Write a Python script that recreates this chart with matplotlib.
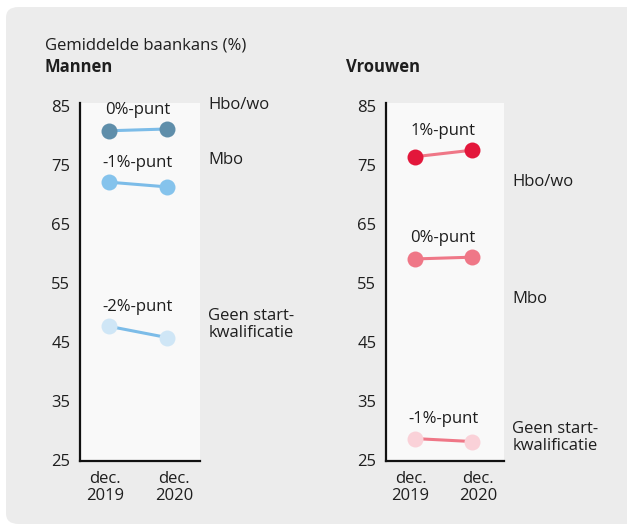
import matplotlib
matplotlib.use("Agg")
import matplotlib.pyplot as plt
from matplotlib.patches import FancyBboxPatch

plt.rcParams["font.family"] = ["Open Sans", "DejaVu Sans"]

# data
periods = ["dec.\n2019", "dec.\n2020"]
groups = ["Hbo/wo", "Mbo", "Geen start-\nkwalificatie"]
men_2019 = [80.8, 72.1, 47.7]
men_2020 = [81.1, 71.3, 45.8]
women_2019 = [76.4, 59.1, 28.7]
women_2020 = [77.5, 59.4, 28.2]
men_change = ["0%-punt", "-1%-punt", "-2%-punt"]
women_change = ["1%-punt", "0%-punt", "-1%-punt"]
yticks = [25, 35, 45, 55, 65, 75, 85]

# styling
men_dot = ["#5f8eaa", "#85c3ec", "#cfe6f6"]
men_line = ["#7cbce8", "#7cbce8", "#7cbce8"]
women_dot = ["#e3173b", "#ef7787", "#fad1d8"]
women_line = ["#ef7787", "#ef7787", "#ef7787"]
men_label_y = [85.2, 75.9, 48.0]
women_label_y = [72.1, 52.3, 28.9]
tick_pos = [-0.07, 1.12]
text_col = "#1e1e1e"
fs = 12

fig = plt.figure(figsize=(6.27, 5.31), dpi=100)
fig.patch.set_facecolor("white")

# grey rounded panel behind everything
panel = FancyBboxPatch((6 / 627, 7 / 531), 640 / 627, 517 / 531,
                       boxstyle="round,pad=0,rounding_size=0.02",
                       transform=fig.transFigure, facecolor="#ececec",
                       edgecolor="none", zorder=-10)
fig.patches.append(panel)

fig.text(45 / 627, 1 - 45 / 531, "Gemiddelde baankans (%)", fontsize=fs,
         color=text_col, va="center", ha="left")
fig.text(45 / 627, 1 - 67 / 531, "Mannen", fontsize=fs, fontweight="bold",
         color=text_col, va="center", ha="left")
fig.text(346 / 627, 1 - 67 / 531, "Vrouwen", fontsize=fs, fontweight="bold",
         color=text_col, va="center", ha="left")


def draw_panel(rect, v2019, v2020, changes, dots, lines, label_y):
    ax = fig.add_axes(rect, zorder=1)
    ax.set_facecolor("#f9f9f9")
    for i in range(len(groups)):
        ax.plot([0, 1], [v2019[i], v2020[i]], color=lines[i], lw=2.2,
                zorder=2, solid_capstyle="round")
        ax.plot([0, 1], [v2019[i], v2020[i]], ls="none", marker="o",
                ms=11.5, color=dots[i], mec="none", zorder=3)
        ax.annotate(changes[i], (0.5, max(v2019[i], v2020[i])),
                    xytext=(0, 14), textcoords="offset points",
                    ha="center", va="center", fontsize=fs, color=text_col)
        ax.annotate(groups[i], (1.57, label_y[i]), xytext=(6, 0),
                    textcoords="offset points", ha="left", va="center",
                    fontsize=fs, color=text_col, linespacing=1.1,
                    annotation_clip=False)
    ax.set_xlim(-0.5, 1.57)
    ax.set_ylim(24.9, 85.5)
    ax.set_yticks(yticks)
    ax.set_xticks(tick_pos)
    ax.set_xticklabels(periods, linespacing=1.1)
    ax.tick_params(length=0, labelsize=fs, colors=text_col, pad=7)
    ax.tick_params(axis="x", pad=7)
    for s in ["top", "right"]:
        ax.spines[s].set_visible(False)
    for s in ["left", "bottom"]:
        ax.spines[s].set_linewidth(1.6)
        ax.spines[s].set_color("#111111")
    return ax


draw_panel([80 / 627, 70 / 531, 120 / 627, 358 / 531],
           men_2019, men_2020, men_change, men_dot, men_line, men_label_y)
draw_panel([386 / 627, 70 / 531, 118 / 627, 358 / 531],
           women_2019, women_2020, women_change, women_dot, women_line,
           women_label_y)

fig.savefig("out.png", dpi=100)
